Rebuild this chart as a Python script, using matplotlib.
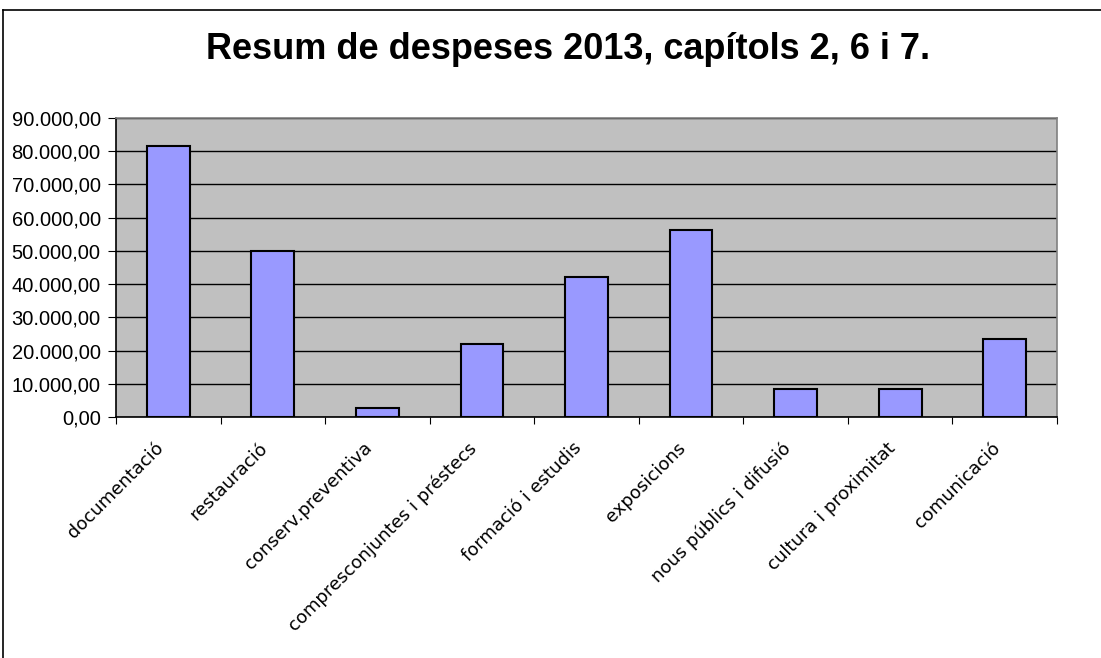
import matplotlib
matplotlib.use("Agg")
import matplotlib.pyplot as plt
import matplotlib.transforms as mtransforms
from matplotlib.ticker import FuncFormatter, FixedLocator, NullFormatter
import numpy as np

# Values (euros)
categories = ["documentació", "restauració", "conserv.preventiva",
              "compresconjuntes i préstecs", "formació i estudis", "exposicions",
              "nous públics i difusió", "cultura i proximitat", "comunicació"]
amounts = [81500, 50000, 2800, 21900, 42100, 56200, 8400, 8300, 23500]
y_ticks = [0, 10000, 20000, 30000, 40000, 50000, 60000, 70000, 80000, 90000]

title = "Resum de despeses 2013, capítols 2, 6 i 7."

W, H = 1101, 658
fig = plt.figure(figsize=(W / 100, H / 100), dpi=100)
fig.patch.set_facecolor("white")

# outer chart border (only top and left visible in the picture)
fig.add_artist(plt.Line2D([3 / W, 3 / W], [1 - 10 / H, 0], color="black", lw=1.2))
fig.add_artist(plt.Line2D([3 / W, 1], [1 - 10 / H, 1 - 10 / H], color="black", lw=1.2))

ax = fig.add_axes([116 / W, 1 - 417 / H, (1057 - 116) / W, (417 - 118) / H])
ax.set_facecolor("#C0C0C0")

x = np.arange(len(categories))
ax.bar(x, amounts, width=0.41, color="#9999FF", edgecolor="black", linewidth=1.5, zorder=3)

ax.set_xlim(-0.5, len(categories) - 0.5)
ax.set_ylim(0, 90000)
ax.set_yticks(y_ticks)


def euro_fmt(v, pos):
    s = "{:,.2f}".format(v)
    return s.replace(",", "X").replace(".", ",").replace("X", ".")


ax.yaxis.set_major_formatter(FuncFormatter(euro_fmt))
ax.grid(axis="y", color="black", linewidth=1, zorder=1)
ax.set_axisbelow(True)

# tick marks at category boundaries, labels drawn separately
ax.set_xticks(np.arange(len(categories) + 1) - 0.5)
ax.xaxis.set_major_formatter(NullFormatter())
ax.tick_params(axis="x", length=5, direction="out", color="black")
ax.tick_params(axis="y", length=6, direction="out", color="black", pad=5)
for lab in ax.get_yticklabels():
    lab.set_fontsize(14.5)
    lab.set_family("Liberation Sans")

# rotated category labels, ending just left of each category centre
lab_tr = ax.get_xaxis_transform() + mtransforms.ScaledTranslation(
    -14 / 100, -22 / 100, fig.dpi_scale_trans)
for xi, name in zip(x, categories):
    ax.text(xi, 0, name, transform=lab_tr, rotation=45, ha="right", va="top",
            rotation_mode="anchor", fontsize=13, family="DejaVu Sans",
            clip_on=False)

ax.spines["left"].set_color("black")
ax.spines["bottom"].set_color("black")
ax.spines["top"].set_color("#808080")
ax.spines["right"].set_color("#808080")
for sp in ax.spines.values():
    sp.set_linewidth(1.2)

fig.text(568 / W, 1 - 59 / H, title, ha="center", va="baseline",
         fontsize=26, fontweight="bold", family="Liberation Sans")

fig.savefig("out.png", dpi=100)
